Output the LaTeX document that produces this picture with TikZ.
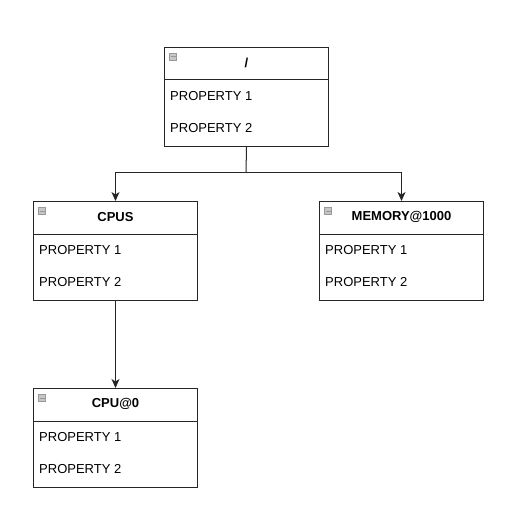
\documentclass[tikz,border=0pt]{standalone}
\usepackage{fontspec}
\setmainfont{Liberation Sans}
\usetikzlibrary{arrows.meta}
\tikzset{
  umlbox/.style={draw=black!85, line width=1pt, minimum width=164pt, minimum height=99pt, inner sep=0pt, fill=white},
  ttl/.style={font=\bfseries\fontsize{13pt}{15pt}\selectfont, inner sep=0pt, text=black},
  prop/.style={font=\fontsize{13pt}{15pt}\selectfont, inner sep=0pt, anchor=west, text=black},
  icon/.style={draw=gray!80, fill=gray!45, line width=0.6pt, minimum width=7pt, minimum height=7pt, inner sep=0pt},
  conn/.style={draw=black!85, line width=1pt, -{Stealth[length=9pt,width=8pt,inset=2.5pt]}},
  plain/.style={draw=black!85, line width=1pt},
}
\newcommand{\umlclass}[4]{%
  % #1 name, #2 left x, #3 top y, #4 title
  \node[umlbox, anchor=north west] (#1) at (#2,#3) {};
  \draw[plain] ([yshift=-33pt]#1.north west) -- ([yshift=-33pt]#1.north east);
  \node[ttl] (#1-title) at ([yshift=-16pt]#1.north) {#4};
  \node[icon] (#1-icon) at ([xshift=9pt,yshift=-10pt]#1.north west) {};
  \draw[gray!80, line width=1pt] ([xshift=-2.5pt]#1-icon.center) -- ([xshift=2.5pt]#1-icon.center);
  \node[prop] (#1-p1) at ([xshift=6pt,yshift=-49pt]#1.north west) {PROPERTY 1};
  \node[prop] (#1-p2) at ([xshift=6pt,yshift=-81pt]#1.north west) {PROPERTY 2};
}
\begin{document}
\begin{tikzpicture}[x=1pt,y=-1pt]
\useasboundingbox (0,0) rectangle (519,529);
\umlclass{root}{164}{47}{/}
\umlclass{cpus}{33}{201}{CPUS}
\umlclass{mem}{319}{201}{MEMORY@1000}
\umlclass{cpu0}{33}{388}{CPU@0}
\coordinate (j) at (246,173);
\draw[plain] (root.south) -- (j);
\draw[conn] (j) -| (cpus.north);
\draw[conn] (j) -| (mem.north);
\draw[conn] (cpus.south) -- (cpu0.north);
\end{tikzpicture}
\end{document}
